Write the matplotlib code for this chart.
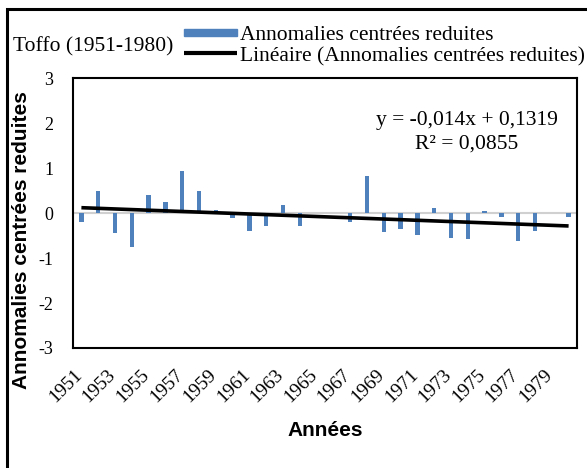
import matplotlib
matplotlib.use("Agg")
import matplotlib.pyplot as plt
from matplotlib.patches import Rectangle
from matplotlib.lines import Line2D
from matplotlib.transforms import ScaledTranslation
import numpy as np

years = list(range(1951, 1981))
anomalies = [-0.21, 0.50, -0.44, -0.75, 0.41, 0.24, 0.94, 0.48, 0.07, -0.10,
             -0.41, -0.28, 0.18, -0.29, 0.01, 0.00, -0.21, 0.83, -0.43, -0.35,
             -0.49, 0.12, -0.55, -0.57, 0.05, -0.09, -0.63, -0.39, 0.00, -0.09]
trend_slope = -0.014
trend_intercept = 0.1319
r_squared = 0.0855
yticks = [-3, -2, -1, 0, 1, 2, 3]
series_label = "Annomalies centrées reduites"
trend_label = "Linéaire (Annomalies centrées reduites)"

serif = "Liberation Serif"
sans = "Liberation Sans"
bar_color = "#4F81BD"

W, H = 587, 468
fig = plt.figure(figsize=(W / 100, H / 100), dpi=100)


def fx(px):
    return px / W


def fy(py):
    return 1 - py / H


L, R, T, B = 73, 577, 78, 348
ax = fig.add_axes([fx(L), fy(B), (R - L) / W, (B - T) / H])

x = np.arange(1, len(years) + 1)
ax.bar(x, anomalies, width=0.27, color=bar_color, zorder=2)
ax.axhline(0, color="#d0d0d0", lw=1.5, zorder=1)

# linear trend over the category index 1..n
xt = np.array([x[0], x[-1]])
ax.plot(xt, trend_slope * xt + trend_intercept, color="black", lw=2.6,
        solid_capstyle="butt", zorder=3)

ax.set_xlim(0.5, len(years) + 0.5)
ax.set_ylim(-3, 3)
ax.set_yticks(yticks)
ax.set_yticklabels([str(v) for v in yticks], fontfamily=serif, fontsize=13)
ax.set_xticks(x[::2])
ax.set_xticklabels([str(y) for y in years[::2]], rotation=45, ha="right",
                   va="top", fontfamily=serif, fontsize=14)
ax.tick_params(axis="both", length=0)
ax.tick_params(axis="y", pad=14)
ax.tick_params(axis="x", pad=13)
shift = ScaledTranslation(4 / 100, 0, fig.dpi_scale_trans)
for lab in ax.get_xticklabels():
    lab.set_transform(lab.get_transform() + shift)
for s in ax.spines.values():
    s.set_linewidth(1.5)
    s.set_color("black")

eq_text = f"y = {trend_slope:.3f}x + {trend_intercept:.4f}".replace(".", ",")
r2_text = f"R² = {r_squared:.4f}".replace(".", ",")
fig.text(fx(467), fy(120), eq_text, ha="center", va="center",
         fontfamily=serif, fontsize=15.5)
fig.text(fx(467), fy(144), r2_text, ha="center", va="center",
         fontfamily=serif, fontsize=15.5)

fig.text(fx(325), fy(430), "Années", ha="center", va="center",
         fontfamily=sans, fontweight="bold", fontsize=15)
fig.text(fx(22), fy(240), series_label, ha="center", va="center",
         rotation=90, fontfamily=sans, fontweight="bold", fontsize=15)

fig.text(fx(13), fy(51), "Toffo (1951-1980)", ha="left", va="baseline",
         fontfamily=serif, fontsize=15.5)

# legend entries
fig.patches.append(Rectangle((fx(184), fy(36)), (237 - 184) / W, 7 / H,
                             transform=fig.transFigure, color=bar_color))
fig.lines.append(Line2D([fx(184), fx(237)], [fy(53), fy(53)],
                        transform=fig.transFigure, color="black", lw=3,
                        solid_capstyle="butt"))
fig.text(fx(240), fy(40), series_label, ha="left", va="baseline",
         fontfamily=serif, fontsize=15.5)
fig.text(fx(240), fy(61), trend_label, ha="left", va="baseline",
         fontfamily=serif, fontsize=15.5)

fig.patches.append(Rectangle((fx(6.5), -0.1), 1.2, fy(9) + 0.1,
                             transform=fig.transFigure, fill=False,
                             edgecolor="black", lw=2.2))

fig.savefig("out.png", dpi=100)
